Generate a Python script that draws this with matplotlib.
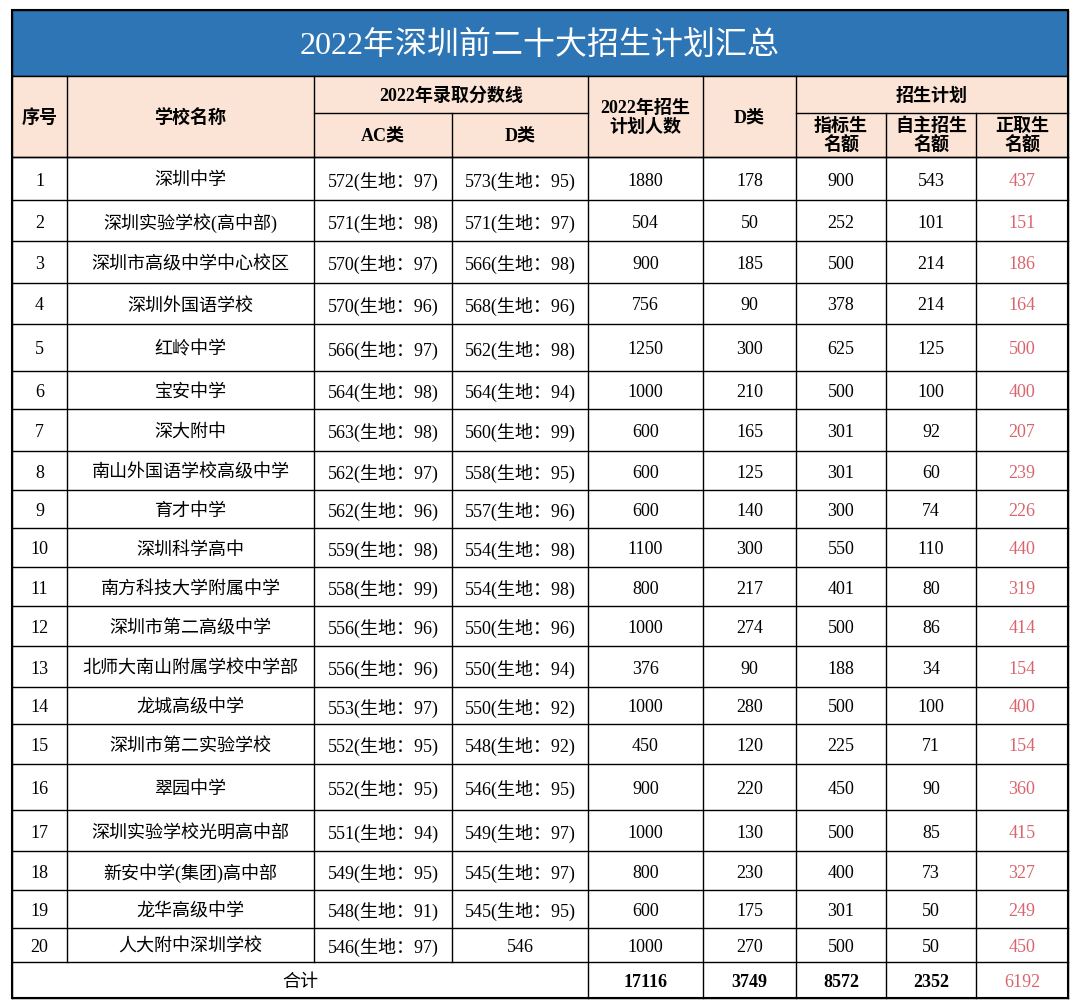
import matplotlib
matplotlib.use("Agg")
import matplotlib.pyplot as plt
from matplotlib.patches import Rectangle

title = "2022年深圳前二十大招生计划汇总"
schools = ["深圳中学","深圳实验学校(高中部)","深圳市高级中学中心校区","深圳外国语学校","红岭中学","宝安中学","深大附中",
           "南山外国语学校高级中学","育才中学","深圳科学高中","南方科技大学附属中学","深圳市第二高级中学","北师大南山附属学校中学部",
           "龙城高级中学","深圳市第二实验学校","翠园中学","深圳实验学校光明高中部","新安中学(集团)高中部","龙华高级中学","人大附中深圳学校"]
ac_score = [572,571,570,570,566,564,563,562,562,559,558,556,556,553,552,552,551,549,548,546]
ac_bio = [97,98,97,96,97,98,98,97,96,98,99,96,96,97,95,95,94,95,91,97]
d_score = [573,571,566,568,562,564,560,558,557,554,554,550,550,550,548,546,549,545,545,546]
d_bio = [95,97,98,96,98,94,99,95,96,98,98,96,94,92,92,95,97,97,95,None]
plan_total = [1880,504,900,756,1250,1000,600,600,600,1100,800,1000,376,1000,450,900,1000,800,600,1000]
d_class = [178,50,185,90,300,210,165,125,140,300,217,274,90,280,120,220,130,230,175,270]
quota = [900,252,500,378,625,500,301,301,300,550,401,500,188,500,225,450,500,400,301,500]
self_rec = [543,101,214,214,125,100,92,60,74,110,80,86,34,100,71,90,85,73,50,50]
formal = [437,151,186,164,500,400,207,239,226,440,319,414,154,400,154,360,415,327,249,450]
totals = [17116,3749,8572,2352,6192]

FONT = ["Liberation Serif", "Noto Sans CJK SC"]
fig = plt.figure(figsize=(10.8, 10.08), dpi=100)
ax = fig.add_axes([0, 0, 1, 1])
ax.set_xlim(0, 1080); ax.set_ylim(1008, 0); ax.axis("off")

xs = [12, 67, 314, 452, 588, 703, 796, 886, 976, 1068]
ys = [157, 200, 241, 283, 324, 371, 409, 451, 490, 528, 567, 606, 646, 687, 724, 764, 810, 851, 890, 928, 962, 998]
L, R = xs[0], xs[-1]
lw = 1.0

ax.add_patch(Rectangle((L, 10), R - L, 66, fc="#2E75B6", ec="black", lw=lw))
ax.text((L + R) / 2, 46, title, color="white", fontsize=23, ha="center", va="center", family=FONT)
ax.add_patch(Rectangle((L, 76), R - L, 81, fc="#FBE4D5", ec="black", lw=lw))

def line(x0, y0, x1, y1):
    ax.plot([x0, x1], [y0, y1], color="black", lw=lw)

line(xs[2], 113, xs[4], 113); line(xs[6], 113, xs[9], 113)
for x in [xs[1], xs[2], xs[4], xs[5], xs[6]]:
    line(x, 76, x, 157)
for x in [xs[3], xs[7], xs[8]]:
    line(x, 113, x, 157)
def t(x, y, s, **kw):
    kw.setdefault("fontsize", 13)
    ax.text(x, y, s, ha="center", va="center", family=FONT, linespacing=1.1, **kw)
mid = lambda i: (xs[i] + xs[i + 1]) / 2
t(mid(0), 118, "序号", fontweight="bold")
t(mid(1), 118, "学校名称", fontweight="bold")
t((xs[2] + xs[4]) / 2, 96, "2022年录取分数线", fontweight="bold")
t(mid(2), 136, "AC类", fontweight="bold"); t(mid(3), 136, "D类", fontweight="bold")
t(mid(4), 118, "2022年招生\n计划人数", fontweight="bold")
t(mid(5), 118, "D类", fontweight="bold")
t((xs[6] + xs[9]) / 2, 96, "招生计划", fontweight="bold")
t(mid(6), 136, "指标生\n名额", fontweight="bold")
t(mid(7), 136, "自主招生\n名额", fontweight="bold")
t(mid(8), 136, "正取生\n名额", fontweight="bold")

for y in ys:
    line(L, y, R, y)
for i, x in enumerate(xs):
    if i in (1, 2, 3):
        line(x, ys[0], x, ys[-2])
    else:
        line(x, ys[0], x, ys[-1])

red = "#D9646E"
for r in range(20):
    yc = (ys[r] + ys[r + 1]) / 2 + 2.5
    t(mid(0), yc, str(r + 1))
    t(mid(1), yc, schools[r])
    t(mid(2), yc, f"{ac_score[r]}(生地：{ac_bio[r]})")
    t(mid(3), yc, f"{d_score[r]}(生地：{d_bio[r]})" if d_bio[r] is not None else str(d_score[r]))
    t(mid(4), yc, str(plan_total[r])); t(mid(5), yc, str(d_class[r]))
    t(mid(6), yc, str(quota[r])); t(mid(7), yc, str(self_rec[r]))
    t(mid(8), yc, str(formal[r]), color=red)
yc = (ys[-2] + ys[-1]) / 2 + 2.5
t((xs[0] + xs[4]) / 2, yc, "合计")
for k, v in enumerate(totals):
    t(mid(4 + k), yc, str(v), fontweight="bold" if k < 4 else "normal", color=red if k == 4 else "black")
ax.add_patch(Rectangle((L, 10), R - L, ys[-1] - 10, fc="none", ec="black", lw=1.5))
fig.savefig("out.png", dpi=100)
